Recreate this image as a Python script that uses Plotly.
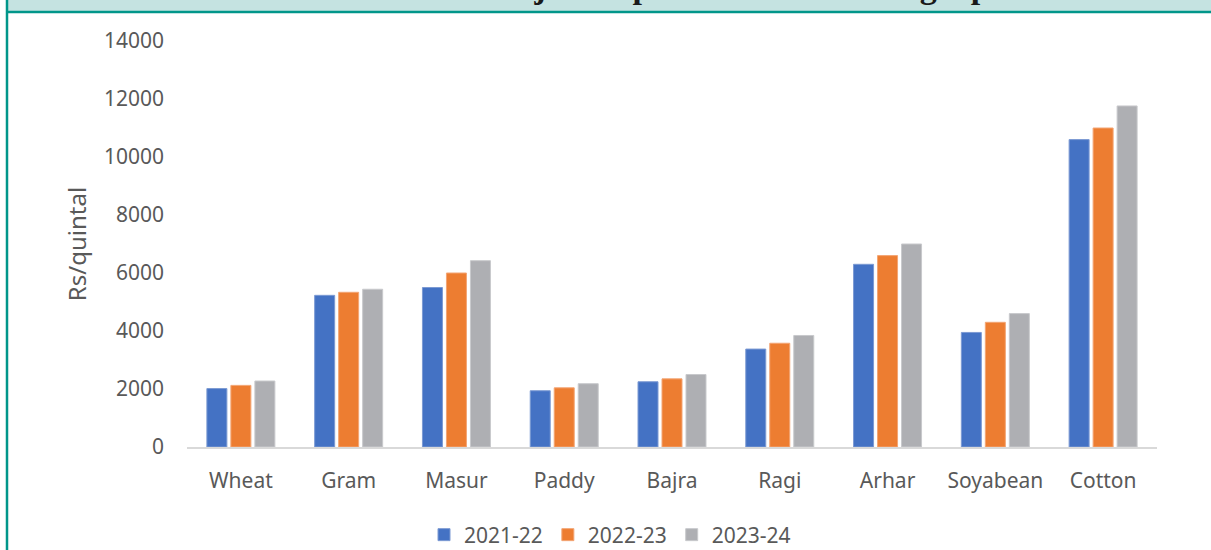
import plotly.graph_objects as go

crops = ["Wheat", "Gram", "Masur", "Paddy", "Bajra", "Ragi", "Arhar", "Soyabean", "Cotton"]
y2021 = [2015, 5230, 5500, 1940, 2250, 3377, 6300, 3950, 10600]
y2022 = [2125, 5335, 6000, 2040, 2350, 3578, 6600, 4300, 11000]
y2023 = [2275, 5440, 6425, 2183, 2500, 3846, 7000, 4600, 11760]
series_names = ["2021-22", "2022-23", "2023-24"]
colors = ["#4472C4", "#ED7D31", "#AEAFB3"]
edge_colors = ["#7C9AD3", "#F3A574", "#C8C9CC"]
title_text = "MSP of major crops over time showing a positive trend"

W, H = 1211, 550
L, R, T, B = 187, 54, 41, 103
pw, ph = W - L - R, H - T - B


def px_x(px):
    return (px - L) / pw


def px_y(py):
    return 1 - (py - T) / ph


fig = go.Figure()
for name, vals, c, ec in zip(series_names, [y2021, y2022, y2023], colors, edge_colors):
    fig.add_trace(go.Bar(x=crops, y=vals, name=name,
                         marker=dict(color=c, line=dict(color=ec, width=1))))

font_family = "Noto Sans, Open Sans, sans-serif"
axis_color = "#595959"
fs = 21

fig.update_layout(
    width=W, height=H,
    margin=dict(l=L, r=R, t=T, b=B, autoexpand=False),
    paper_bgcolor="white", plot_bgcolor="white",
    barmode="group", bargap=0.332, bargroupgap=0.167,
    font=dict(family=font_family, size=fs, color=axis_color),
    showlegend=True,
    legend=dict(orientation="h", x=px_x(610), xanchor="center",
                y=px_y(535), yanchor="middle",
                font=dict(size=fs, color=axis_color),
                itemwidth=30, tracegroupgap=0),
    xaxis=dict(showline=True, linecolor="#D9D9D9", linewidth=2,
               showgrid=False, ticks="", ticklabelstandoff=14,
               tickfont=dict(size=fs, color=axis_color)),
    yaxis=dict(range=[0, 14000], dtick=2000, tickformat="d",
               showgrid=False, zeroline=False,
               showline=False, ticks="", ticklabelstandoff=22,
               tickfont=dict(size=fs, color=axis_color),
               title=dict(text="Rs/quintal", standoff=10,
                          font=dict(size=24, color=axis_color))),
    shapes=[
        dict(type="rect", xref="paper", yref="paper",
             x0=px_x(8), x1=px_x(1215), y0=px_y(-5), y1=px_y(11),
             fillcolor="#C5E3E1", line=dict(width=0), layer="below"),
        dict(type="line", xref="paper", yref="paper",
             x0=px_x(7), x1=px_x(1215), y0=px_y(12), y1=px_y(12),
             line=dict(color="#00968A", width=2.5)),
        dict(type="line", xref="paper", yref="paper",
             x0=px_x(7), x1=px_x(7), y0=px_y(-5), y1=px_y(560),
             line=dict(color="#00968A", width=2.5)),
    ],
    annotations=[
        dict(text="<b>" + title_text + "</b>", xref="paper", yref="paper",
             x=px_x(372), xanchor="left", y=px_y(7), yanchor="bottom",
             showarrow=False,
             font=dict(family="Liberation Serif, Times New Roman, serif",
                       size=34, color="#1a1a1a")),
    ],
)

fig.write_html("out.html",
               config={"displayModeBar": False},
               post_script="document.body.style.margin='0';"
                           "document.body.style.overflow='hidden';")
